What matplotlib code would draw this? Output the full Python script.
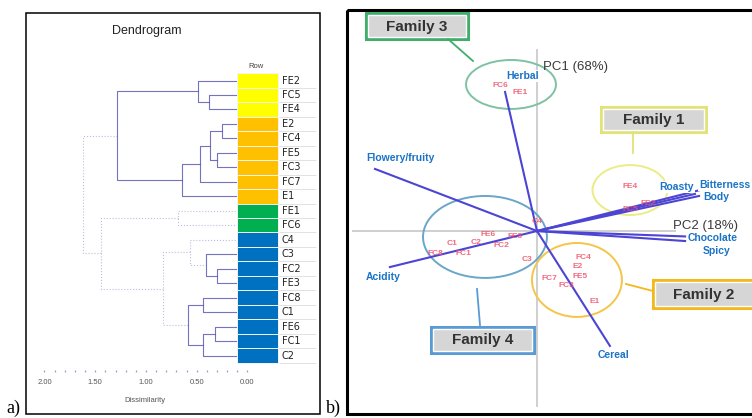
import numpy as np
import matplotlib
matplotlib.use('Agg')
import matplotlib.pyplot as plt
from matplotlib.patches import Ellipse, Rectangle

plt.rcParams['font.family'] = ['Liberation Sans', 'DejaVu Sans']

# ---- dendrogram data ----
leaves = ['FE2', 'FC5', 'FE4', 'E2', 'FC4', 'FE5', 'FC3', 'FC7', 'E1', 'FE1',
          'FC6', 'C4', 'C3', 'FC2', 'FE3', 'FC8', 'C1', 'FE6', 'FC1', 'C2']
leaf_family = [1, 1, 1, 2, 2, 2, 2, 2, 2, 3, 3, 4, 4, 4, 4, 4, 4, 4, 4, 4]
family_colors = {1: '#ffff00', 2: '#ffc000', 3: '#00b050', 4: '#0070c0'}

merge_a = ['FC5', 'FE2', 'E2', 'FE5', 'n2', 'n4', 'n5', 'n1', 'FE1', 'FC2',
           'C3', 'C4', 'FC8', 'FE6', 'n13', 'n12', 'n11', 'n8', 'n7']
merge_b = ['FE4', 'n0', 'FC4', 'FC3', 'n3', 'FC7', 'E1', 'n6', 'FC6', 'FE3',
           'n9', 'n10', 'C1', 'FC1', 'C2', 'n14', 'n15', 'n16', 'n17']
merge_h = [0.38, 0.485, 0.25, 0.30, 0.37, 0.47, 0.645, 1.29, 0.68, 0.30,
           0.41, 0.57, 0.44, 0.32, 0.435, 0.59, 0.83, 1.44, 1.62]
faint_nodes = ['n8', 'n11', 'n16', 'n17', 'n18']

# ---- PCA biplot data ----
variables = ['Herbal', 'Flowery/fruity', 'Acidity', 'Cereal', 'Roasty',
             'Bitterness', 'Body', 'Chocolate', 'Spicy']
var_x = [-0.188, -0.953, -0.865, 0.429, 0.929, 0.959, 0.953, 0.871, 0.871]
var_y = [0.818, 0.365, -0.212, -0.676, 0.218, 0.241, 0.206, -0.032, -0.059]

samples = ['FC6', 'FE1', 'FE4', 'FC5', 'FE2', 'FC4', 'E2', 'FE5', 'FC7', 'FC3',
           'E1', 'C4', 'C3', 'FE3', 'FC2', 'FE6', 'C2', 'FC1', 'C1', 'FC8']
score_x = [-0.218, -0.100, 0.547, 0.550, 0.655, 0.271, 0.241, 0.253, 0.070, 0.170,
           0.341, 0.000, -0.059, -0.130, -0.210, -0.285, -0.360, -0.430, -0.500, -0.600]
score_y = [0.853, 0.812, 0.259, 0.125, 0.160, -0.153, -0.210, -0.265, -0.282, -0.318,
           -0.412, 0.053, -0.165, -0.035, -0.085, -0.020, -0.070, -0.135, -0.075, -0.130]

families = ['Family 1', 'Family 2', 'Family 3', 'Family 4']
fam_cx = [0.547, 0.235, -0.153, -0.306]
fam_cy = [0.241, -0.288, 0.862, -0.035]
fam_w = [0.441, 0.529, 0.529, 0.729]
fam_h = [0.294, 0.435, 0.288, 0.482]
fam_edge = ['#ecec86', '#f5c54a', '#7ec2a2', '#6aa6c8']
box_edge = ['#e2e27a', '#f2b81c', '#3fae6a', '#5b9bd5']

W, H = 752, 418
fig = plt.figure(figsize=(W / 100, H / 100), dpi=100)


def rect(l, t, r, b):
    return [l / W, 1 - b / H, (r - l) / W, (b - t) / H]


# ---- panel a: dendrogram ----
ax = fig.add_axes(rect(27, 73.3, 318, 372))
ax.set_xlim(2.172, -0.695)
ax.set_ylim(20.14, -0.5)

pos = {name: i for i, name in enumerate(leaves)}
hgt = {name: 0.0 for name in leaves}
for k, (a, b, h) in enumerate(zip(merge_a, merge_b, merge_h)):
    node = 'n%d' % k
    faint = node in faint_nodes
    ax.plot([hgt[a], h, h, hgt[b]], [pos[a], pos[a], pos[b], pos[b]],
            color='#5b5bb5', lw=0.8, ls=':' if faint else '-',
            alpha=0.4 if faint else 0.85, zorder=1)
    pos[node] = (pos[a] + pos[b]) / 2
    hgt[node] = h

ax.barh(range(len(leaves)), -0.41, left=0.105, height=1,
        color=[family_colors[f] for f in leaf_family],
        edgecolor='#f4f4f4', lw=0.7, zorder=3)
ax.hlines(np.arange(len(leaves)) + 0.5, -0.31, -0.68, color='#dddddd', lw=0.6)
for i, name in enumerate(leaves):
    ax.text(-0.34, i, name, ha='left', va='center', fontsize=7,
            family=['DejaVu Sans'], color='#222222')

ax.set_xticks(np.arange(0, 2.01, 0.5))
ax.set_xticklabels(['%.2f' % v for v in np.arange(0, 2.01, 0.5)],
                   fontsize=5.5, color='#555555')
ax.set_xticks(np.arange(0, 2.01, 0.1), minor=True)
ax.tick_params(which='both', axis='x', direction='in', length=1.5, width=0.9,
               color='#9a9ad0', pad=5)
ax.set_yticks([])
for s in ax.spines.values():
    s.set_visible(False)
ax.patch.set_alpha(0)

# ---- panel b: PCA biplot ----
K, ox, oy = 170, 537, 231
ax2 = fig.add_axes(rect(347, 10, 752, 414))
ax2.set_xlim((347 - ox) / K, (752 - ox) / K)
ax2.set_ylim((oy - 414) / K, (oy - 10) / K)
ax2.axis('off')

ax2.plot([0, 0], [1.065, -1.03], color='#cfcfcf', lw=1.4, zorder=1)
ax2.plot([-1.08, 0.81], [0, 0], color='#cfcfcf', lw=1.4, zorder=1)

for cx, cy, w, h, ec in zip(fam_cx, fam_cy, fam_w, fam_h, fam_edge):
    ax2.add_patch(Ellipse((cx, cy), w, h, fill=False, ec=ec, lw=1.4, zorder=2))

for vx, vy in zip(var_x, var_y):
    ax2.plot([0, vx], [0, vy], color='#4b44d4', lw=1.5, zorder=3)

for name, x, y in zip(samples, score_x, score_y):
    ax2.text(x, y, name, ha='center', va='center', fontsize=6,
             color='#f0506a', alpha=0.85, fontweight='bold', zorder=4)

# ---- overlay in pixel coordinates ----
ov = fig.add_axes([0, 0, 1, 1])
ov.set_xlim(0, W)
ov.set_ylim(H, 0)
ov.axis('off')
ov.patch.set_alpha(0)

ov.add_patch(Rectangle((26, 13), 294, 401, fill=False, ec='black', lw=1.1))
ov.add_patch(Rectangle((347, 10), 410, 404, fill=False, ec='black', lw=2.2))
ov.text(13, 408, 'a)', ha='center', va='center', fontsize=13,
        family=['Liberation Serif'])
ov.text(333, 408, 'b)', ha='center', va='center', fontsize=13,
        family=['Liberation Serif'])

ov.text(147, 31, 'Dendrogram', ha='center', va='center', fontsize=9,
        color='#222222')
ov.text(256, 66, 'Row', ha='center', va='center', fontsize=5.5, color='#444444')
ov.text(145, 401, 'Dissimilarity', ha='center', va='center', fontsize=5.5,
        color='#555555')

ov.text(543, 67, 'PC1 (68%)', ha='left', va='center', fontsize=9.5, color='#3a3a3a')
ov.text(673, 226, 'PC2 (18%)', ha='left', va='center', fontsize=9.5, color='#3a3a3a')

label_px = [(523, 76), (400, 158), (383, 277), (614, 355), (677, 187),
            (725, 185), (716, 197), (713, 238), (717, 251)]
for name, (px, py) in zip(variables, label_px):
    ov.text(px, py, name, ha='center', va='center', fontsize=7.5,
            fontweight='bold', color='#1a73c6',
            bbox=dict(boxstyle='square,pad=0.1', fc='white', ec='none'))

box_px = [(601, 106.7, 705.7, 131.7), (653.3, 280, 762, 308.3),
          (365.7, 13.3, 468.3, 39), (431, 326.7, 534, 352.7)]
text_px = [(653.5, 120), (704, 295), (417, 27), (482.5, 340)]
lead_px = [((633, 132), (633, 153)), ((626, 284), (653, 291)),
           ((448, 39), (473, 61)), ((477, 289), (480, 325))]
for fam, (l, t, r, b), (tx, ty), (p0, p1), ec in zip(families, box_px, text_px,
                                                     lead_px, box_edge):
    ov.plot([p0[0], p1[0]], [p0[1], p1[1]], color=ec, lw=1.3)
    ov.add_patch(Rectangle((l, t), r - l, b - t, fc='#d6d6d6', ec=ec, lw=2.2))
    ov.add_patch(Rectangle((l + 2, t + 2), r - l - 4, b - t - 4, fill=False,
                           ec='white', lw=1.0))
    ov.text(tx, ty, fam, ha='center', va='center', fontsize=11,
            fontweight='bold', color='#333333')

fig.savefig('out.png', dpi=100)
